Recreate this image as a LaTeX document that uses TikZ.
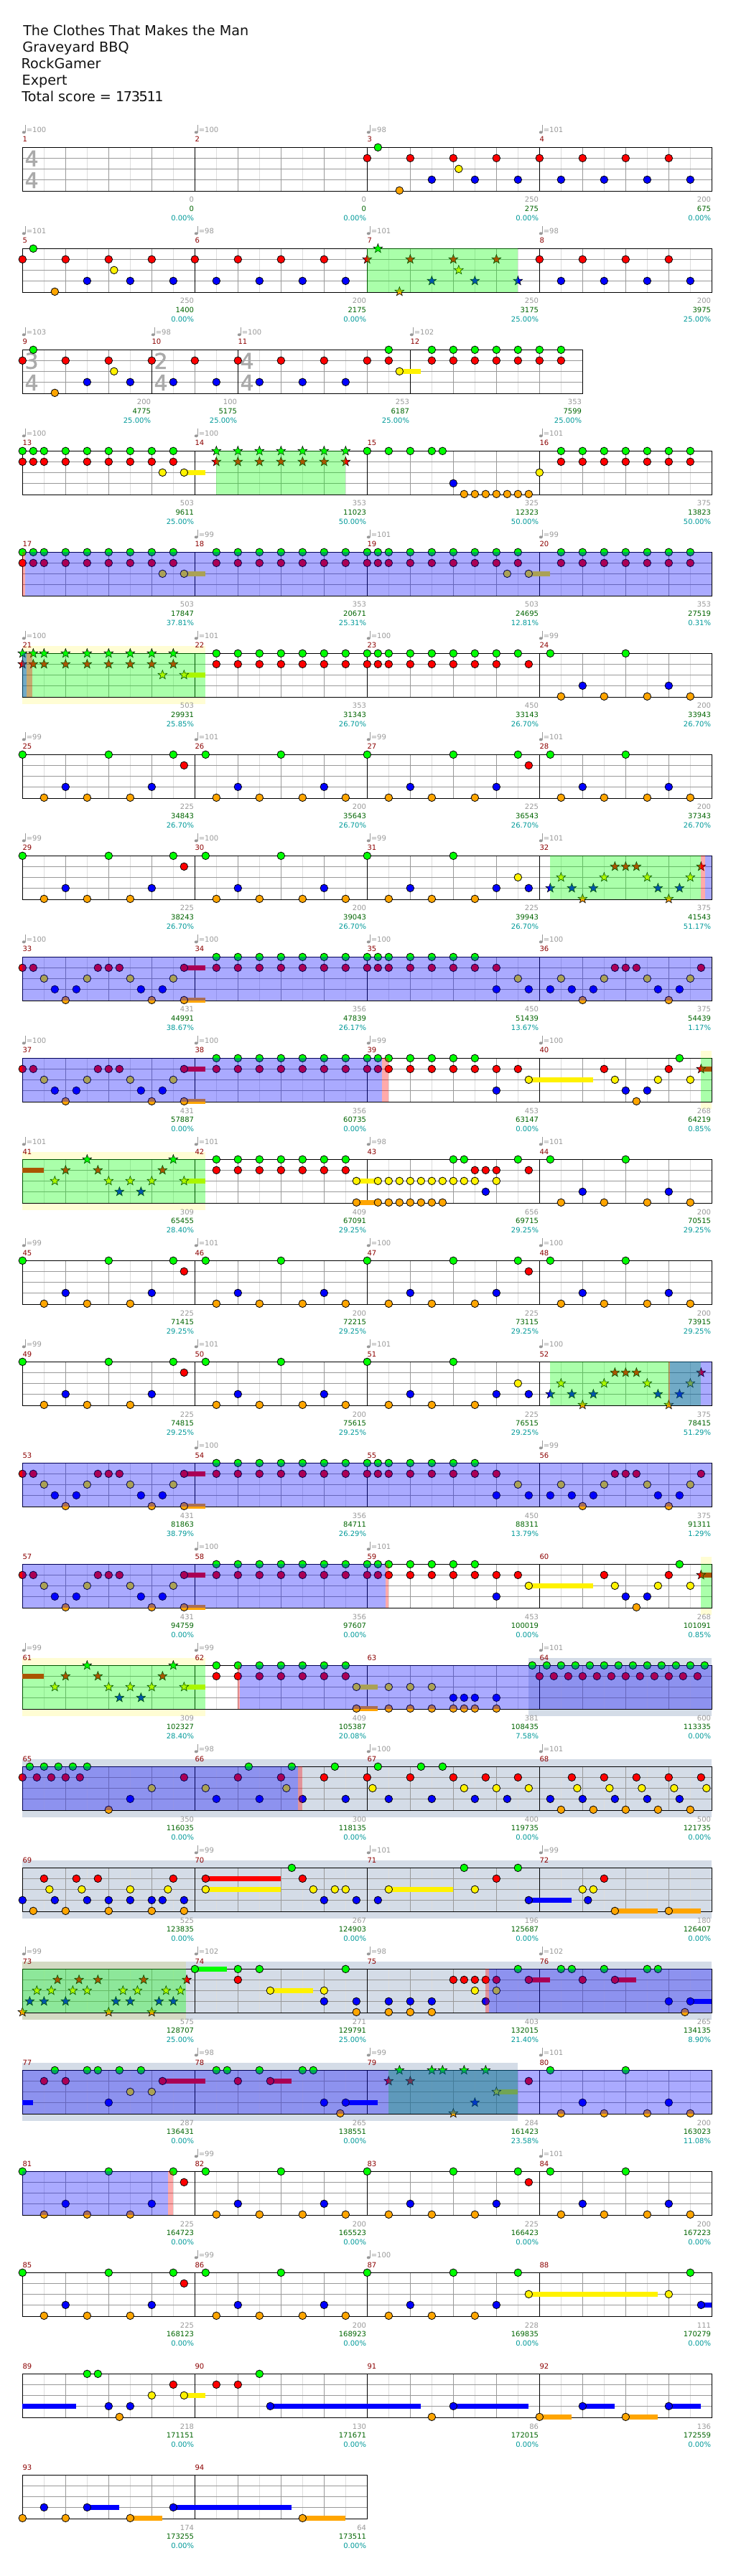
\documentclass[tikz,border=0pt]{standalone}
\usepackage{fontspec}
\setmainfont{DejaVu Sans}
\usetikzlibrary{shapes.geometric}
\definecolor{lanegray}{HTML}{999999}
\definecolor{eighthgray}{HTML}{DDDDDD}
\definecolor{sigcolor}{HTML}{AAAAAA}
\definecolor{cumgreen}{HTML}{006400}
\definecolor{pctteal}{HTML}{009999}
\definecolor{numred}{HTML}{8B0000}
\definecolor{noteorange}{HTML}{FFA500}
\definecolor{slatefill}{RGB}{0,45,115}
\tikzset{
  rowat/.style={shift={(23.5pt,{-154pt-105.75pt*#1})}},
  barline/.style={black, line width=.75pt},
  beatline/.style={lanegray, line width=.75pt},
  eighthline/.style={eighthgray, line width=.75pt},
  notebase/.style={circle, draw=black, line width=.6pt, minimum size=7.9pt, inner sep=0pt},
  starbase/.style={star, star points=5, star point ratio=2.4, draw=black, line width=.45pt, minimum size=10pt, inner sep=0pt},
  gnote/.style={notebase, fill=green},
  rnote/.style={notebase, fill=red},
  ynote/.style={notebase, fill=yellow},
  bnote/.style={notebase, fill=blue},
  onote/.style={notebase, fill=noteorange},
  gstar/.style={starbase, fill=green},
  rstar/.style={starbase, fill=red},
  ystar/.style={starbase, fill=yellow},
  bstar/.style={starbase, fill=blue},
  ostar/.style={starbase, fill=noteorange},
  spzone/.style={fill=green, fill opacity=.333},
  odzone/.style={fill=blue, fill opacity=.333},
  redzone/.style={fill=red, fill opacity=.333},
  yband/.style={fill=yellow, fill opacity=.167},
  slateband/.style={fill=slatefill, fill opacity=.167},
  infotext/.style={inner sep=0pt, font=\fontsize{7.5pt}{9pt}\selectfont},
  titletext/.style={anchor=base west, inner sep=0pt, text=black!93, font=\fontsize{14.4pt}{17pt}\selectfont},
  sigtext/.style={inner sep=0pt, text=sigcolor, font=\fontsize{22.5pt}{24pt}\selectfont\addfontfeature{FakeBold=1.5}},
}
% staff with its beat lines, #1 = length in sixteenths, #2 = inner bar lines
\newcommand{\staffgrid}[2]{
  \foreach \s in {2,6,...,#1} \draw[eighthline] (\s,0) -- (\s,4.067);
  \foreach \s in {4,8,...,#1} \draw[beatline] (\s,0) -- (\s,4.067);
  \foreach \l in {1,2,3} \draw[beatline] (0,\l) -- (#1,\l);
  \foreach \s in {#2} \draw[barline] (\s,0) -- (\s,4.067);
  \draw[barline] (0,0) rectangle (#1,4.067);
}
\newcommand{\timesig}[3]{
  \node[sigtext] (sigup#1) at (#1+.85,1.03) {#2};
  \node[sigtext] (sigdn#1) at (#1+.85,3.05) {#3};
}
\newcommand{\notes}[3]{
  \foreach \p [count=\i] in {#3} \node[#1] (#1\i) at (\p,#2) {};
}
\newcommand{\sust}[4]{\fill[#1] (#3,#2-.233) rectangle (#4,#2+.233);}
\newcommand{\zone}[3]{\fill[#1] (#2,0) rectangle (#3,4.067);}
\newcommand{\band}[3]{\fill[#1] (#2,-.667) rectangle (#3,4.733);}
\newcommand{\edgeband}[2]{
  \fill[yband] (#1,-.667) rectangle (#2,0);
  \fill[yband] (#1,4.067) rectangle (#2,4.733);
}
% start/end/tempo/base/total/percent, tempo 0 = not printed
\newcommand{\barinfo}[2]{
  \foreach \bs/\be/\tem/\bas/\cum/\pct [count=\i from #1] in {#2} {
    \ifnum\tem>0
      \fill[lanegray] (\bs+.13,-1.4) ellipse (1.9pt and 1.5pt);
      \draw[lanegray, line width=.6pt] (\bs+.26,-1.4) -- (\bs+.26,-2.07);
      \node[infotext, anchor=base west, text=lanegray] (tempo\i) at (\bs+.35,-1.36) {=\tem};
    \fi
    \node[infotext, anchor=base west, text=numred] (num\i) at (\bs,-.49) {\i};
    \node[infotext, anchor=base east, text=lanegray] (base\i) at (\be-.07,5.11) {\bas};
    \node[infotext, anchor=base east, text=cumgreen] (total\i) at (\be-.07,5.97) {\cum};
    \node[infotext, anchor=base east, text=pctteal] (pct\i) at (\be-.07,6.84) {\pct\%};
  }
}
% parts that come back later in the song
\newcommand{\riffkick}{
  \notes{gnote}{0}{0,8,14,17,24,32,40,46,49,56}
  \notes{rnote}{1}{15,47}
  \notes{bnote}{3}{4,12,20,28,36,44,52,60}
  \notes{onote}{4}{2,6,10,18,22,26,30,34,38,42,50,54,58,62}
}
\newcommand{\riffsolo}{
  \notes{gnote}{0}{0,8,14,17,24,32,40}
  \notes{rnote}{1}{15}
  \notes{rstar}{1}{55,56,57,63}
  \notes{ynote}{2}{46}
  \notes{ystar}{2}{50,54,58,62}
  \notes{bnote}{3}{4,12,20,28,36,44,47}
  \notes{bstar}{3}{49,51,53,59,61}
  \notes{onote}{4}{2,6,10,18,22,26,30,34,38,42}
  \notes{ostar}{4}{52,60}
}
\newcommand{\riffrunA}{
  \sust{red}{1}{15}{17}
  \sust{noteorange}{4}{15}{17}
  \notes{gnote}{0}{18,20,...,30,32,33,34,36,38,40,42}
  \notes{rnote}{1}{0,1,7,8,9,15,18,20,...,30,32,33,34,36,38,40,42,44}
  \notes{ynote}{2}{2,6,10,14}
  \notes{bnote}{3}{3,5,11,13,44}
  \notes{onote}{4}{4,12,15}
}
\newcommand{\riffrunB}{
  \notes{rnote}{1}{55,56,57,63}
  \notes{ynote}{2}{46,50,54,58,62}
  \notes{bnote}{3}{47,49,51,53,59,61}
  \notes{onote}{4}{52,60}
}
\newcommand{\riffrunC}{
  \sust{yellow}{2}{47}{53}
  \sust{red}{1}{63}{64}
  \notes{gnote}{0}{61}
  \notes{rnote}{1}{46,54,60}
  \notes{rstar}{1}{63}
  \notes{ynote}{2}{47,55,59,62}
  \notes{bnote}{3}{56,58}
  \notes{onote}{4}{57}
}
\newcommand{\riffstar}{
  \sust{red}{1}{0}{2}
  \sust{yellow}{2}{15}{17}
  \notes{gstar}{0}{6,14}
  \notes{rstar}{1}{4,7,13}
  \notes{ystar}{2}{3,8,10,12,15}
  \notes{bstar}{3}{9,11}
  \notes{gnote}{0}{18,20,...,30}
  \notes{rnote}{1}{18,20,...,30}
}
\begin{document}
\begin{tikzpicture}[x=11.25pt, y=-11.25pt]
\useasboundingbox (0pt,0pt) rectangle (768pt,-2691.75pt);
\node[titletext] (songname) at (24pt,-37pt) {The Clothes That Makes the Man};
\node[titletext] (bandname) at (23.4pt,-54.2pt) {Graveyard BBQ};
\node[titletext] (player) at (22pt,-71.5pt) {RockGamer};
\node[titletext] (level) at (22.8pt,-88.7pt) {Expert};
\node[titletext] (totalscore) at (22.5pt,-106pt) {Total score = {\addfontfeature{LetterSpace=-7}173511}};

% 1 to 4
\begin{scope}[rowat=0]
\staffgrid{64}{16,32,48}
\timesig{0}{4}{4}
\notes{gnote}{0}{33}
\notes{rnote}{1}{32,36,...,60}
\notes{ynote}{2}{40.5}
\notes{bnote}{3}{38,42,...,62}
\notes{onote}{4}{35}
\barinfo{1}{0/16/100/0/0/0.00,16/32/100/0/0/0.00,32/48/98/250/275/0.00,48/64/101/200/675/0.00}
\end{scope}

% 5 to 8
\begin{scope}[rowat=1]
\staffgrid{64}{16,32,48}
\notes{gnote}{0}{1}
\notes{gstar}{0}{33}
\notes{rnote}{1}{0,4,...,28,48,52,56,60}
\notes{rstar}{1}{32,36,40,44}
\notes{ynote}{2}{8.5}
\notes{ystar}{2}{40.5}
\notes{bnote}{3}{6,10,...,30,50,54,58,62}
\notes{bstar}{3}{38,42,46}
\notes{onote}{4}{3}
\notes{ostar}{4}{35}
\zone{spzone}{32}{46}
\barinfo{5}{0/16/101/250/1400/0.00,16/32/98/200/2175/0.00,32/48/101/250/3175/25.00,48/64/98/200/3975/25.00}
\end{scope}

% 9 to 12
\begin{scope}[rowat=2]
\staffgrid{52}{12,20,36}
\timesig{0}{3}{4}
\timesig{12}{2}{4}
\timesig{20}{4}{4}
\sust{yellow}{2}{35}{37}
\notes{gnote}{0}{1,34,38,40,42,44,46,48,50}
\notes{rnote}{1}{0,4,...,32,34,38,40,42,44,46,48,50}
\notes{ynote}{2}{8.5,35}
\notes{bnote}{3}{6,10,...,30}
\notes{onote}{4}{3}
\barinfo{9}{0/12/103/200/4775/25.00,12/20/98/100/5175/25.00,20/36/100/253/6187/25.00,36/52/102/353/7599/25.00}
\end{scope}

% 13 to 16
\begin{scope}[rowat=3]
\staffgrid{64}{16,32,48}
\sust{yellow}{2}{15}{17}
\notes{gnote}{0}{0,1,2,4,6,8,10,12,14,32,34,36,38,39,50,52,...,62}
\notes{gstar}{0}{18,20,...,30}
\notes{rnote}{1}{0,1,2,4,6,8,10,12,14,50,52,...,62}
\notes{rstar}{1}{18,20,...,30}
\notes{ynote}{2}{13,15,48}
\notes{bnote}{3}{40}
\notes{onote}{4}{41,42,...,47}
\zone{spzone}{18}{30}
\barinfo{13}{0/16/100/503/9611/25.00,16/32/100/353/11023/50.00,32/48/0/325/12323/50.00,48/64/101/375/13823/50.00}
\end{scope}

% 17 to 20
\begin{scope}[rowat=4]
\staffgrid{64}{16,32,48}
\sust{yellow}{2}{15}{17}
\sust{yellow}{2}{47}{49}
\notes{gnote}{0}{0,1,2,4,6,8,10,12,14,18,20,...,30,32,33,34,36,38,...,46,50,52,...,62}
\notes{rnote}{1}{0,1,2,4,6,8,10,12,14,18,20,...,30,32,33,34,36,38,...,46,50,52,...,62}
\notes{ynote}{2}{13,15,45,47}
\zone{redzone}{0}{.26}
\zone{odzone}{.26}{64}
\barinfo{17}{0/16/0/503/17847/37.81,16/32/99/353/20671/25.31,32/48/101/503/24695/12.81,48/64/99/353/27519/0.31}
\end{scope}

% 21 to 24
\begin{scope}[rowat=5]
\edgeband{0}{17}
\staffgrid{64}{16,32,48}
\sust{yellow}{2}{15}{17}
\notes{gstar}{0}{0,1,2,4,6,8,10,12,14}
\notes{gnote}{0}{18,20,...,30,32,33,34,36,38,...,46,49,56}
\notes{rstar}{1}{0,1,2,4,6,8,10,12,14}
\notes{rnote}{1}{18,20,...,30,32,33,34,36,38,40,42,44,47}
\notes{ystar}{2}{13,15}
\notes{bnote}{3}{52,60}
\notes{onote}{4}{50,54,58,62}
\zone{spzone}{0}{17}
\zone{odzone}{0}{.4}
\zone{redzone}{.4}{.9}
\barinfo{21}{0/16/100/503/29931/25.85,16/32/101/353/31343/26.70,32/48/100/450/33143/26.70,48/64/99/200/33943/26.70}
\end{scope}

% 25 to 28
\begin{scope}[rowat=6]
\staffgrid{64}{16,32,48}
\riffkick
\barinfo{25}{0/16/99/225/34843/26.70,16/32/101/200/35643/26.70,32/48/99/225/36543/26.70,48/64/101/200/37343/26.70}
\end{scope}

% 29 to 32
\begin{scope}[rowat=7]
\staffgrid{64}{16,32,48}
\riffsolo
\zone{spzone}{49}{63}
\zone{redzone}{63}{63.35}
\zone{odzone}{63.35}{64}
\barinfo{29}{0/16/99/225/38243/26.70,16/32/100/200/39043/26.70,32/48/99/225/39943/26.70,48/64/101/375/41543/51.17}
\end{scope}

% 33 to 36
\begin{scope}[rowat=8]
\staffgrid{64}{16,32,48}
\riffrunA
\riffrunB
\zone{odzone}{0}{64}
\barinfo{33}{0/16/100/431/44991/38.67,16/32/100/356/47839/26.17,32/48/100/450/51439/13.67,48/64/100/375/54439/1.17}
\end{scope}

% 37 to 40
\begin{scope}[rowat=9]
\edgeband{63}{64}
\staffgrid{64}{16,32,48}
\riffrunA
\riffrunC
\zone{spzone}{63}{64}
\zone{odzone}{0}{33.4}
\zone{redzone}{33.4}{34}
\barinfo{37}{0/16/100/431/57887/0.00,16/32/100/356/60735/0.00,32/48/99/453/63147/0.00,48/64/100/268/64219/0.85}
\end{scope}

% 41 to 44
\begin{scope}[rowat=10]
\edgeband{0}{17}
\staffgrid{64}{16,32,48}
\riffstar
\sust{yellow}{2}{31}{33}
\sust{noteorange}{4}{31}{33}
\notes{gnote}{0}{40,41,46,49,56}
\notes{rnote}{1}{42,43,44,47}
\notes{ynote}{2}{31,33,34,...,42,44}
\notes{bnote}{3}{43,52,60}
\notes{onote}{4}{31,33,34,...,39,50,54,58,62}
\zone{spzone}{0}{17}
\barinfo{41}{0/16/101/309/65455/28.40,16/32/101/409/67091/29.25,32/48/98/656/69715/29.25,48/64/101/200/70515/29.25}
\end{scope}

% 45 to 48
\begin{scope}[rowat=11]
\staffgrid{64}{16,32,48}
\riffkick
\barinfo{45}{0/16/99/225/71415/29.25,16/32/101/200/72215/29.25,32/48/100/225/73115/29.25,48/64/100/200/73915/29.25}
\end{scope}

% 49 to 52
\begin{scope}[rowat=12]
\staffgrid{64}{16,32,48}
\riffsolo
\zone{spzone}{49}{63}
\zone{redzone}{60}{60.1}
\zone{odzone}{60.1}{64}
\barinfo{49}{0/16/99/225/74815/29.25,16/32/101/200/75615/29.25,32/48/101/225/76515/29.25,48/64/100/375/78415/51.29}
\end{scope}

% 53 to 56
\begin{scope}[rowat=13]
\staffgrid{64}{16,32,48}
\riffrunA
\riffrunB
\zone{odzone}{0}{64}
\barinfo{53}{0/16/0/431/81863/38.79,16/32/100/356/84711/26.29,32/48/0/450/88311/13.79,48/64/99/375/91311/1.29}
\end{scope}

% 57 to 60
\begin{scope}[rowat=14]
\edgeband{63}{64}
\staffgrid{64}{16,32,48}
\riffrunA
\riffrunC
\zone{spzone}{63}{64}
\zone{odzone}{0}{33.7}
\zone{redzone}{33.7}{34}
\barinfo{57}{0/16/0/431/94759/0.00,16/32/100/356/97607/0.00,32/48/101/453/100019/0.00,48/64/0/268/101091/0.85}
\end{scope}

% 61 to 64
\begin{scope}[rowat=15]
\edgeband{0}{17}
\band{slateband}{47}{64}
\staffgrid{64}{16,32,48}
\riffstar
\sust{yellow}{2}{31}{33}
\sust{noteorange}{4}{31}{33}
\notes{gnote}{0}{47.33,48.67,50,51.33,52.67,54,55.33,56.67,58,59.33,60.67,62,63.33}
\notes{rnote}{1}{48,49.33,50.67,52,53.33,54.67,56,57.33,58.67,60,61.33,62.67}
\notes{ynote}{2}{31,34,36,38}
\notes{bnote}{3}{40,41,42,44}
\notes{onote}{4}{31,34,36,38,40,41,42,44}
\zone{spzone}{0}{17}
\zone{redzone}{20}{20.15}
\zone{odzone}{20.15}{64}
\barinfo{61}{0/16/99/309/102327/28.40,16/32/99/409/105387/20.08,32/48/0/381/108435/7.58,48/64/101/600/113335/0.00}
\end{scope}

% 65 to 68
\begin{scope}[rowat=16]
\band{slateband}{0}{64}
\staffgrid{64}{16,32,48}
\notes{gnote}{0}{.67,2,3.33,4.67,6,21,25,29,33,37,39}
\notes{rnote}{1}{0,1.33,2.67,4,5.33,15,20,24,28,32,36,40,43,46,51,54,57,60,63}
\notes{ynote}{2}{12,17,24.5,32.5,41,44,47,51.5,54.5,57.5,60.5,63.5}
\notes{bnote}{3}{10,18,22,26,30,34,38,42,45,49,52,55,58,61}
\notes{onote}{4}{8,50,53,56,59,62}
\zone{odzone}{0}{25.6}
\zone{redzone}{25.6}{26}
\barinfo{65}{0/16/0/350/116035/0.00,16/32/98/300/118135/0.00,32/48/100/400/119735/0.00,48/64/101/500/121735/0.00}
\end{scope}

% 69 to 72
\begin{scope}[rowat=17]
\band{slateband}{0}{64}
\staffgrid{64}{16,32,48}
\sust{red}{1}{17}{24}
\sust{yellow}{2}{17}{24}
\sust{yellow}{2}{34}{40}
\sust{blue}{3}{47}{51}
\sust{noteorange}{4}{55}{59}
\sust{noteorange}{4}{60}{63}
\notes{gnote}{0}{25,41,46}
\notes{rnote}{1}{2,5,7,14,17,26,44,54}
\notes{ynote}{2}{2.5,5.5,10,13.5,17,27,29,30,34,42,52,53}
\notes{bnote}{3}{0,3,6,8,10,12,13,15,28,31,33,47,52.5}
\notes{onote}{4}{1,4,8,12,15,55,60}
\barinfo{69}{0/16/0/525/123835/0.00,16/32/99/267/124903/0.00,32/48/101/196/125687/0.00,48/64/99/180/126407/0.00}
\end{scope}

% 73 to 76
\begin{scope}[rowat=18]
\edgeband{0}{15.2}
\band{slateband}{0}{64}
\staffgrid{64}{16,32,48}
\sust{green}{0}{16}{19}
\sust{red}{1}{47}{49}
\sust{red}{1}{55}{57}
\sust{yellow}{2}{23}{27}
\sust{blue}{3}{62}{64}
\notes{gnote}{0}{16,20,22,30,46,50,51,54,58,59}
\notes{rstar}{1}{3.25,5.25,7,11.25,15.25}
\notes{rnote}{1}{20,40,41,42,43,44,47,52,55}
\notes{ystar}{2}{1.33,2.67,4.67,6,9.33,10.67,13.33,14.67}
\notes{ynote}{2}{23,28,42,44}
\notes{bstar}{3}{.67,2,4,8.67,10,12.67,14}
\notes{bnote}{3}{28,31,34,36,38,43,60,62}
\notes{ostar}{4}{0,8,12}
\notes{onote}{4}{31,34,36,38,61.5}
\zone{spzone}{0}{15.2}
\zone{redzone}{43}{43.33}
\zone{odzone}{43.33}{64}
\barinfo{73}{0/16/99/575/128707/25.00,16/32/102/271/129791/25.00,32/48/98/403/132015/21.40,48/64/102/265/134135/8.90}
\end{scope}

% 77 to 80
\begin{scope}[rowat=19]
\band{slateband}{0}{46}
\staffgrid{64}{16,32,48}
\sust{blue}{3}{0}{1}
\sust{red}{1}{13}{17}
\sust{red}{1}{23}{25}
\sust{yellow}{2}{44}{46}
\sust{blue}{3}{30}{33}
\notes{gnote}{0}{3,6,7,9,11,18,19,22,26,27,49,56}
\notes{gstar}{0}{35,38,39,41,43}
\notes{rnote}{1}{2,4,13,20,23,47}
\notes{rstar}{1}{34,36}
\notes{ynote}{2}{10,12}
\notes{ystar}{2}{44}
\notes{bnote}{3}{8,28,30,52,60}
\notes{bstar}{3}{42}
\notes{onote}{4}{29.5,50,54,58,62}
\notes{ostar}{4}{40}
\zone{spzone}{34}{46}
\zone{odzone}{0}{64}
\barinfo{77}{0/16/0/287/136431/0.00,16/32/98/265/138551/0.00,32/48/99/284/161423/23.58,48/64/101/200/163023/11.08}
\end{scope}

% 81 to 84
\begin{scope}[rowat=20]
\staffgrid{64}{16,32,48}
\riffkick
\zone{odzone}{0}{13.5}
\zone{redzone}{13.5}{14}
\barinfo{81}{0/16/0/225/164723/0.00,16/32/99/200/165523/0.00,32/48/0/225/166423/0.00,48/64/101/200/167223/0.00}
\end{scope}

% 85 to 88
\begin{scope}[rowat=21]
\staffgrid{64}{16,32,48}
\sust{yellow}{2}{47}{59}
\sust{blue}{3}{63}{64}
\notes{gnote}{0}{0,8,14,17,24,32,40,46,62}
\notes{rnote}{1}{15}
\notes{ynote}{2}{47,60}
\notes{bnote}{3}{4,12,20,28,36,44,63}
\notes{onote}{4}{2,6,10,18,22,26,30,34,38,42}
\barinfo{85}{0/16/0/225/168123/0.00,16/32/99/200/168923/0.00,32/48/100/228/169835/0.00,48/64/0/111/170279/0.00}
\end{scope}

% 89 to 92
\begin{scope}[rowat=22]
\staffgrid{64}{16,32,48}
\sust{yellow}{2}{15}{17}
\sust{blue}{3}{0}{5}
\sust{blue}{3}{23}{37}
\sust{blue}{3}{40}{47}
\sust{blue}{3}{52}{55}
\sust{blue}{3}{60}{63}
\sust{noteorange}{4}{48}{51}
\sust{noteorange}{4}{56}{59}
\notes{gnote}{0}{6,7,22}
\notes{rnote}{1}{14,18,20}
\notes{ynote}{2}{12,15}
\notes{bnote}{3}{8,10,23,40,52,60}
\notes{onote}{4}{9,38,48,56}
\barinfo{89}{0/16/0/218/171151/0.00,16/32/0/130/171671/0.00,32/48/0/86/172015/0.00,48/64/0/136/172559/0.00}
\end{scope}

% 93 to 94
\begin{scope}[rowat=23]
\staffgrid{32}{16}
\sust{blue}{3}{6}{9}
\sust{blue}{3}{14}{25}
\sust{noteorange}{4}{10}{13}
\sust{noteorange}{4}{26}{30}
\notes{bnote}{3}{2,6,14}
\notes{onote}{4}{0,4,10,26}
\barinfo{93}{0/16/0/174/173255/0.00,16/32/0/64/173511/0.00}
\end{scope}
\end{tikzpicture}
\end{document}
